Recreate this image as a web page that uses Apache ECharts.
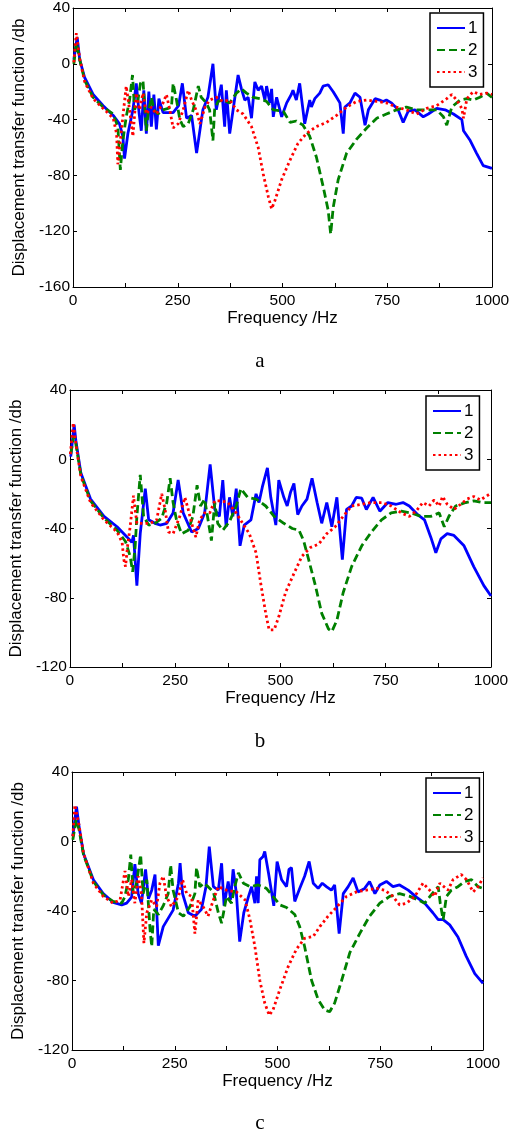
<!DOCTYPE html>
<html><head><meta charset="utf-8">
<script src="https://cdn.jsdelivr.net/npm/echarts@6/dist/echarts.min.js"></script>
<style>html,body{margin:0;padding:0;background:#fff}#c{width:520px;height:1133px}</style>
</head><body><div id="c"></div>
<script>
var seriesNames = ['1','2','3'];
var captions = ['a','b','c'];
var xTicks = [0,250,500,750,1000];
// chart a
var a1 = [[2,3],[10,19],[12,20],[16,3],[28,-10],[48,-22],[72,-30],[96,-37],[111,-43],[119,-52],[123,-68],[131,-50],[143,-33],[151,-14],[158,-36],[163,-48],[169,-19],[175,-50],[181,-20],[187,-45],[193,-22],[199,-47],[205,-25],[215,-35],[239,-35],[252,-30],[261,-14],[271,-39],[283,-37],[295,-64],[310,-33],[322,-24],[334,0],[342,-33],[354,-15],[362,-45],[366,-19],[374,-50],[394,-8],[402,-18],[410,-26],[418,-24],[426,-39],[434,-13],[442,-19],[450,-16],[458,-26],[462,-16],[470,-28],[474,-18],[478,-38],[486,-24],[498,-38],[510,-28],[521,-22],[525,-19],[533,-26],[541,-14],[553,-43],[565,-26],[569,-31],[577,-25],[589,-21],[597,-16],[609,-15],[621,-20],[629,-24],[637,-28],[645,-50],[649,-31],[661,-28],[673,-21],[685,-24],[697,-44],[705,-33],[721,-25],[732,-26],[740,-27],[748,-26],[760,-28],[776,-33],[788,-42],[800,-34],[816,-33],[836,-38],[848,-36],[868,-32],[888,-33],[908,-36],[928,-40],[932,-48],[948,-55],[963,-64],[979,-73],[1000,-75]];
var a2 = [[2,0],[8,15],[16,3],[28,-12],[48,-24],[72,-31],[96,-36],[107,-45],[113,-76],[119,-55],[127,-38],[135,-26],[142,-8],[147,-33],[155,-26],[161,-14],[167,-12],[175,-48],[179,-36],[187,-24],[193,-33],[203,-36],[215,-33],[227,-32],[235,-31],[239,-14],[247,-26],[255,-40],[263,-45],[275,-43],[287,-33],[299,-16],[306,-24],[318,-28],[326,-33],[334,-55],[338,-33],[346,-27],[358,-26],[374,-28],[390,-21],[402,-18],[414,-21],[430,-24],[446,-25],[462,-27],[478,-33],[502,-34],[518,-42],[533,-41],[549,-44],[565,-52],[581,-67],[597,-88],[609,-105],[615,-122],[621,-103],[633,-83],[653,-64],[677,-54],[701,-46],[725,-39],[748,-36],[772,-33],[796,-31],[820,-33],[844,-33],[868,-33],[884,-38],[892,-44],[904,-31],[924,-26],[940,-25],[955,-26],[971,-24],[987,-21],[1000,-24]];
var a3 = [[2,1],[8,22],[16,4],[28,-13],[48,-25],[72,-32],[96,-39],[104,-50],[107,-72],[113,-55],[119,-38],[127,-16],[135,-33],[143,-52],[151,-21],[159,-33],[167,-21],[175,-36],[187,-31],[199,-36],[215,-28],[223,-22],[231,-33],[239,-46],[251,-43],[263,-33],[275,-19],[283,-26],[295,-34],[303,-43],[315,-31],[326,-26],[342,-24],[358,-27],[374,-26],[390,-33],[406,-36],[426,-45],[442,-60],[454,-79],[466,-95],[474,-104],[482,-98],[498,-83],[518,-69],[537,-57],[557,-50],[581,-45],[605,-42],[629,-37],[653,-31],[677,-27],[701,-26],[725,-27],[748,-28],[772,-31],[796,-33],[820,-36],[844,-32],[868,-30],[892,-25],[904,-22],[916,-26],[928,-32],[932,-39],[940,-25],[955,-20],[971,-22],[987,-21],[1000,-22]];
// chart b
var b1 = [[2,1.5],[10,20],[14,11],[26,-8],[49,-23],[81,-33],[112,-39],[136,-45],[147,-48],[151,-44],[159,-73],[167,-43],[179,-17],[187,-35],[202,-37],[214,-38],[230,-37],[245,-31],[257,-12],[269,-31],[289,-42],[305,-40],[320,-31],[333,-3],[344,-29],[355,-33],[363,-12],[371,-39],[379,-22],[387,-33],[395,-17],[404,-50],[414,-38],[430,-35],[442,-20],[449,-25],[457,-16],[469,-5],[477,-22],[489,-38],[496,-12],[508,-22],[516,-27],[524,-19],[532,-14],[541,-32],[551,-27],[563,-23],[575,-11],[587,-25],[598,-37],[610,-25],[622,-39],[634,-22],[647,-58],[657,-29],[669,-27],[680,-22],[693,-22.5],[704,-29],[720,-22],[736,-30],[755,-25],[775,-26],[791,-25],[806,-27],[826,-32],[842,-35],[857,-45],[869,-54],[881,-46],[896,-43],[912,-44],[936,-50],[959,-62],[983,-73],[1000,-79]];
var b2 = [[2,3],[9,13],[14,9],[26,-9],[49,-24],[81,-34],[112,-41],[132,-47.5],[143,-56],[149,-65],[155,-50],[159,-33],[167,-9],[175,-33],[187,-38],[202,-37],[218,-34],[230,-25],[238,-11],[245,-25],[253,-35],[265,-43],[281,-41],[292,-33],[302,-15],[310,-27],[320,-23],[328,-35],[336,-47],[344,-25],[351,-37],[363,-41],[379,-36],[395,-27],[406,-17],[422,-22],[442,-23],[465,-27],[485,-33],[508,-37],[528,-40],[544,-41],[555,-47],[567,-58],[583,-73],[598,-89],[614,-98],[622,-99.5],[634,-93],[649,-77],[669,-62],[693,-50],[716,-42],[740,-35],[763,-31],[787,-30],[810,-31],[834,-33],[857,-33],[877,-31],[889,-39],[900,-33],[916,-27],[940,-25],[959,-24],[979,-25],[1000,-25]];
var b3 = [[1,3],[8,21],[14,9],[26,-10],[49,-25],[81,-35],[112,-42],[124,-48],[128,-58],[132,-62],[137,-50],[143,-39],[151,-21],[159,-37],[175,-37],[191,-37],[206,-35],[218,-20],[226,-29],[234,-42],[245,-43],[261,-33],[273,-22],[281,-29],[289,-37],[299,-45],[308,-35],[320,-31],[332,-31],[344,-24],[359,-24],[375,-25],[395,-31],[410,-37],[426,-43],[442,-54],[453,-71.5],[465,-89],[473,-98.5],[485,-98.5],[496,-91],[512,-77],[532,-66],[551,-56],[571,-51],[591,-49],[610,-43],[630,-39],[649,-33],[669,-27],[693,-26],[716,-25],[740,-25],[763,-27],[787,-31],[806,-33],[822,-30],[838,-25],[853,-27],[865,-23.5],[877,-27],[885,-21.5],[896,-26],[912,-29],[928,-26],[943,-23],[959,-21.5],[975,-23.5],[1000,-19.6]];
// chart c
var c1 = [[2,3],[11,20],[17,9],[28,-7],[52,-22],[76,-30],[100,-35],[121,-36.5],[133,-35.5],[145,-32],[153,-13],[161,-30],[169,-35.5],[179,-16],[186,-33],[194,-28],[202,-19],[210,-60],[222,-49],[246,-39.5],[259,-24],[263,-12.5],[269,-30],[283,-41],[299,-43],[315,-39],[326,-26],[334,-3],[344,-26],[356,-28],[364,-12.5],[370,-37],[380,-23],[386,-33.5],[392,-16],[400,-30],[408,-57.6],[418,-41],[429,-32],[437,-26],[445,-35.5],[449,-20],[453,-35.5],[457,-10.5],[465,-8.6],[469,-5.7],[478,-18],[491,-37],[499,-11.5],[510,-22],[522,-26],[528,-16],[534,-15],[542,-34.5],[554,-27],[566,-20],[577,-11.5],[587,-24],[599,-27],[609,-24],[619,-26],[631,-28],[639,-25],[650,-53],[660,-30],[672,-26],[684,-21],[696,-29],[712,-27],[724,-23],[737,-30],[749,-25],[765,-23],[781,-26],[797,-25],[818,-28],[838,-32],[858,-35.5],[878,-41],[891,-45],[903,-45],[919,-48],[939,-55],[959,-66],[980,-76],[1000,-81.6]];
var c2 = [[2,1],[10,12.5],[17,7],[28,-7.6],[52,-23],[76,-30.7],[100,-34.5],[121,-35.5],[129,-31.6],[137,-22],[143,-7.6],[149,-30],[157,-24],[167,-7.6],[173,-30],[182,-22],[190,-51],[194,-60.5],[199,-39],[210,-42],[222,-37],[234,-30],[240,-13.5],[246,-28],[259,-41],[271,-43],[287,-37.5],[299,-30],[303,-15],[311,-26],[321,-24],[331,-26],[344,-29],[356,-41],[364,-47],[376,-31.6],[388,-35.5],[396,-26],[405,-18],[417,-24],[433,-26],[453,-25],[473,-27],[489,-31.6],[506,-36.5],[522,-38],[542,-42],[554,-49],[566,-60.5],[583,-80],[599,-91],[615,-97],[627,-98],[639,-93],[656,-80],[676,-64],[700,-53],[724,-43],[749,-35.5],[773,-31.6],[797,-30],[822,-31.6],[842,-33.6],[858,-35.5],[874,-30.7],[891,-26],[896,-35.5],[903,-45],[911,-31.6],[923,-28],[939,-26],[955,-23],[972,-22],[988,-26],[1000,-27]];
var c3 = [[2,3],[7,21],[17,9.6],[28,-6.7],[52,-24],[76,-31.6],[100,-35.5],[117,-33.6],[129,-17],[137,-31.6],[145,-22],[153,-35.5],[161,-20],[169,-30],[175,-58.5],[182,-41],[194,-33.6],[206,-37.5],[214,-24],[222,-20],[230,-31.6],[242,-37.5],[259,-31.6],[269,-22],[279,-30],[291,-31.6],[299,-53],[307,-33.6],[319,-37.5],[331,-43],[344,-33.6],[356,-26],[376,-28],[400,-29],[421,-33.6],[433,-45],[445,-60.5],[457,-80],[469,-93],[480,-100],[489,-97],[506,-85],[526,-72],[546,-62],[566,-55.7],[587,-54.7],[603,-49],[623,-43],[643,-38],[668,-31.6],[692,-29],[716,-28],[741,-27],[761,-28],[781,-31.6],[797,-36.5],[814,-35.5],[834,-31.6],[854,-24],[870,-28],[882,-31.6],[895,-24],[915,-28],[927,-22],[947,-19],[960,-22],[976,-29],[988,-26],[1000,-21]];

var panels = [
  {data:[a1,a2,a3], ymin:-160, grid:{left:73,right:28,top:8,height:279}, legend:{left:430,top:13}, cap:358, nameGapY:41},
  {data:[b1,b2,b3], ymin:-120, grid:{left:66,right:29,top:390,height:277}, legend:{left:426,top:396}, cap:738, nameGapY:43},
  {data:[c1,c2,c3], ymin:-120, grid:{left:72,right:37,top:772,height:278}, legend:{left:426,top:778}, cap:1120, nameGapY:40}
];
var colors = ['#0000ff','#008000','#ff0000'];
var types = ['solid',[8,4],[2.5,3]];
var FONT = 'Liberation Sans, Arial, sans-serif';

var option = {animation:false, backgroundColor:'#fff', grid:[], xAxis:[], yAxis:[], series:[], legend:[], title:[]};
panels.forEach(function(p, i){
  option.grid.push(Object.assign({containLabel:false}, p.grid));
  var tickStyle = {show:true, inside:true, length:4, lineStyle:{color:'#000', width:1}};
  option.xAxis.push({type:'value', gridIndex:i, min:0, max:1000, interval:125, position:'bottom',
    name:'Frequency /Hz', nameLocation:'middle', nameGap:20,
    nameTextStyle:{color:'#000', fontSize:17, fontFamily:FONT},
    axisLine:{show:true, onZero:false, lineStyle:{color:'#000', width:1}},
    axisTick:tickStyle, splitLine:{show:false},
    axisLabel:{color:'#000', fontSize:15.5, fontFamily:FONT, margin:6,
      formatter:function(v){ return xTicks.indexOf(v) >= 0 ? String(v) : ''; }}});
  option.xAxis.push({type:'value', gridIndex:i, min:0, max:1000, interval:125, position:'top',
    axisLine:{show:true, onZero:false, lineStyle:{color:'#000', width:1}},
    axisTick:tickStyle, axisLabel:{show:false}, splitLine:{show:false}});
  option.yAxis.push({type:'value', gridIndex:i, min:p.ymin, max:40, interval:40, position:'left',
    name:'Displacement transfer function /db', nameLocation:'middle', nameGap:p.nameGapY, nameRotate:90,
    nameTextStyle:{color:'#000', fontSize:17, fontFamily:FONT},
    axisLine:{show:true, onZero:false, lineStyle:{color:'#000', width:1}},
    axisTick:tickStyle, splitLine:{show:false},
    axisLabel:{color:'#000', fontSize:15.5, fontFamily:FONT, margin:3}});
  option.yAxis.push({type:'value', gridIndex:i, min:p.ymin, max:40, interval:40, position:'right',
    axisLine:{show:true, onZero:false, lineStyle:{color:'#000', width:1}},
    axisTick:tickStyle, axisLabel:{show:false}, splitLine:{show:false}});
  var names = [];
  p.data.forEach(function(d, k){
    var nm = seriesNames[k] + (i ? '\u200b'.repeat(i) : '');
    names.push(nm);
    option.series.push({type:'line', name:nm, xAxisIndex:2*i, yAxisIndex:2*i, data:d,
      symbol:'none', showSymbol:false, smooth:false, z:10+k,
      lineStyle:{color:colors[k], width:2.8, type:types[k]}, itemStyle:{color:colors[k]}});
  });
  option.legend.push({data:names, orient:'vertical', left:p.legend.left, top:p.legend.top,
    itemWidth:28, itemHeight:14, itemGap:4, padding:[6,6,6,6],
    backgroundColor:'#fff', borderColor:'#000', borderWidth:1.5,
    itemStyle:{opacity:0, borderWidth:0},
    textStyle:{color:'#000', fontSize:17, lineHeight:18, fontFamily:FONT, padding:[0,0,0,-2]},
    formatter:function(n){ return n.replace(/\u200b/g,''); }});
  option.title.push({text:captions[i], left:'center', top:p.cap-12,
    textStyle:{color:'#000', fontSize:21, fontWeight:'normal', fontFamily:'Liberation Serif, Times New Roman, serif'}});
});
var chart = echarts.init(document.getElementById('c'), null, {renderer:'canvas'});
chart.setOption(option);
</script></body></html>
